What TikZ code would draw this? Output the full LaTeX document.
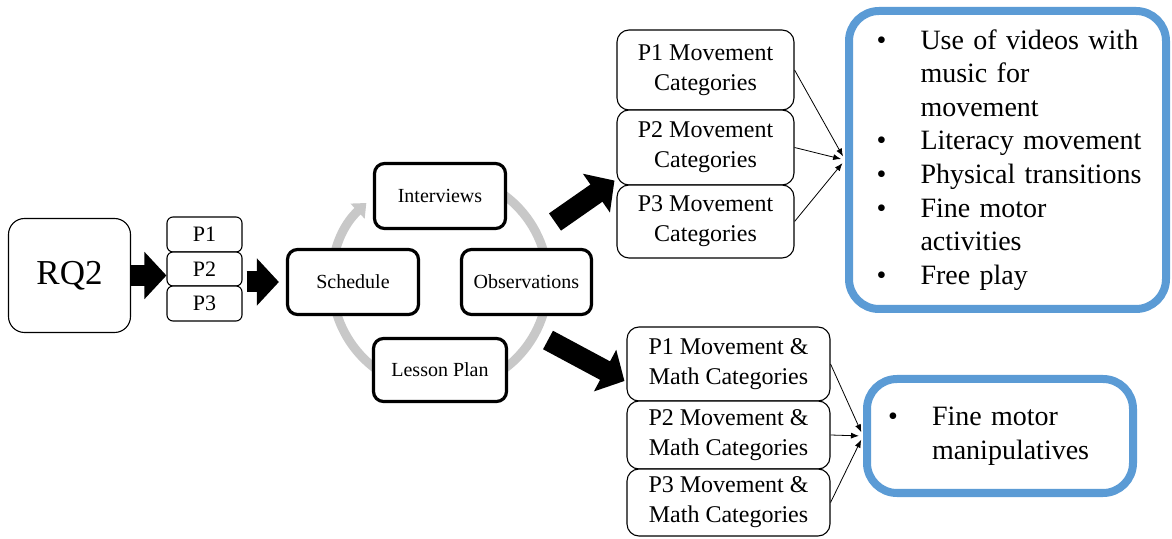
\documentclass[tikz,border=0pt]{standalone}
\usepackage{fontspec}
\setmainfont{Liberation Serif}
\usetikzlibrary{arrows.meta,calc}
\definecolor{ringgray}{RGB}{200,200,200}
\definecolor{boxblue}{RGB}{91,155,213}
\newcommand{\bul}{\makebox[44pt][l]{\textbullet}}
\newcommand{\ind}{\hspace*{44pt}}

\begin{document}
\begin{tikzpicture}[x=1pt,y=1pt,
    pbox/.style={draw,line width=1.1pt,rounded corners=6pt,fill=white,inner sep=2pt,align=center},
    cycbox/.style={draw,line width=3.2pt,rounded corners=10pt,fill=white,inner sep=2pt,
        minimum width=131pt,minimum height=65pt,font=\fontsize{20}{24}\selectfont},
    movbox/.style={pbox,rounded corners=12pt,minimum width=177pt,font=\fontsize{24}{30}\selectfont},
    mathbox/.style={pbox,rounded corners=12pt,minimum width=203pt,font=\fontsize{24}{30}\selectfont},
    bluebox/.style={draw=boxblue,line width=8pt,rounded corners=30pt,fill=white,align=left,
        inner ysep=2pt,font=\fontsize{28}{33.6}\selectfont},
    blockarrow/.style={line width=21pt,-{Triangle[length=22pt,width=46pt]}},
    thinarrow/.style={line width=0.8pt,-{Latex[length=8pt,width=6pt]},shorten >=4pt},
    ring/.style={draw=ringgray,line width=9pt}]
    \useasboundingbox (0,0) rectangle (1172,538);

    % gray cycle behind the four boxes
    \coordinate (cyc) at (440,256);
    \draw[ring,-{Triangle[length=12pt,width=20pt]}] ([shift={(cyc)}]115:108) arc (115:-227:108);

    \node[pbox,rounded corners=16pt,minimum width=122pt,minimum height=114pt,font=\fontsize{35}{40}\selectfont] (rq) at (69.5,262.5) {RQ2};

    \node[pbox,minimum width=75pt,minimum height=35pt,font=\fontsize{22}{26}\selectfont] (p1) at (204.5,303.5) {P1};
    \node[pbox,minimum width=75pt,minimum height=34pt,font=\fontsize{22}{26}\selectfont] (p2) at (204.5,269) {P2};
    \node[pbox,minimum width=75pt,minimum height=35pt,font=\fontsize{22}{26}\selectfont] (p3) at (204.5,234.5) {P3};

    \node[cycbox] (sched) at (353,256) {Schedule};
    \node[cycbox] (intv) at (440,342) {Interviews};
    \node[cycbox,minimum width=130pt] (obs) at (526.5,256) {Observations};
    \node[cycbox,minimum width=133pt,minimum height=63pt] (lplan) at (440,168) {Lesson Plan};

    \node[movbox,minimum height=80pt] (mov1) at (705.5,468) {P1 Movement\\Categories};
    \node[movbox,minimum height=75pt] (mov2) at (705.5,390.5) {P2 Movement\\Categories};
    \node[movbox,minimum height=73pt] (mov3) at (705.5,316.5) {P3 Movement\\Categories};

    \node[mathbox,minimum height=74pt] (math1) at (728.5,174) {P1 Movement \&\\Math Categories};
    \node[mathbox,minimum height=68pt] (math2) at (728.5,103) {P2 Movement \&\\Math Categories};
    \node[mathbox,minimum height=67pt] (math3) at (728.5,35.5) {P3 Movement \&\\Math Categories};

    \node[bluebox,minimum width=317pt,minimum height=298pt,text width=262pt,inner xsep=27.5pt] (res1) at (1007.5,378)
        {\begin{tabular}{@{}l@{}}
         \bul Use of videos with\\ \ind music for\\ \ind movement\\ \bul Literacy movement\\
         \bul Physical transitions\\ \bul Fine motor\\ \ind activities\\ \bul Free play
         \end{tabular}};
    \node[bluebox,minimum width=266pt,minimum height=114pt,text width=224pt,inner xsep=21pt] (res2) at (1000,102)
        {\begin{tabular}{@{}l@{}}
         \bul Fine motor\\ \ind manipulatives
         \end{tabular}};

    % block arrows
    \draw[blockarrow] (rq.east) -- (rq.east -| p1.west);
    \draw[blockarrow] ($(p2.east |- sched.west)+(4,0)$) -- ($(sched.west)+(-7,0)$);
    \coordinate (upTail) at (555,316);
    \coordinate (dnTail) at (548,198);
    \draw[blockarrow] (upTail) -- ([shift={(-2,5)}]mov2.south west);
    \draw[blockarrow] (dnTail) -- ([shift={(-2,-17)}]math1.west);

    % thin arrows into the results
    \draw[thinarrow] (mov1.east) -- (res1.west);
    \draw[thinarrow] (mov2.east) -- (res1.west);
    \draw[thinarrow] (mov3.east) -- (res1.west);
    \draw[thinarrow] (math1.east) -- (res2.west);
    \draw[thinarrow] (math2.east) -- (res2.west);
    \draw[thinarrow] (math3.east) -- (res2.west);
\end{tikzpicture}
\end{document}
